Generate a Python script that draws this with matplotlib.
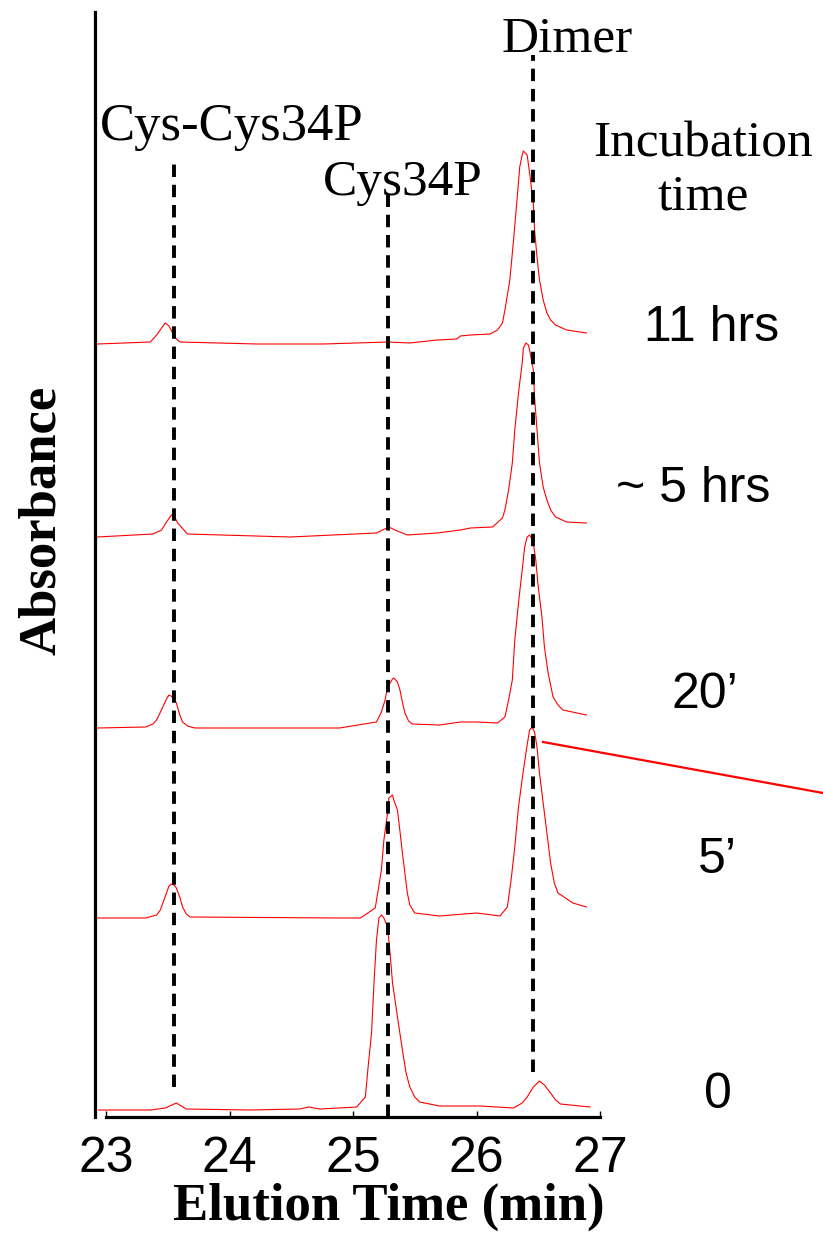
import matplotlib.pyplot as plt
from matplotlib.lines import Line2D

# chromatograms, elution time (min) and signal above each trace's own baseline (a.u.)
t_11h = [22.93, 23.36, 23.41, 23.45, 23.48, 23.51, 23.54, 23.57, 23.60, 24.22, 24.76, 25.28,
         25.46, 25.68, 25.84, 25.87, 25.95, 26.11, 26.17, 26.21, 26.23, 26.27, 26.30, 26.33,
         26.35, 26.37, 26.38, 26.41, 26.43, 26.46, 26.47, 26.49, 26.51, 26.54, 26.57, 26.60,
         26.64, 26.73, 26.89]
s_11h = [0, 2, 9, 16, 21, 18, 11, 5, 2, 0, 0, 2,
         1, 4, 5, 8, 9, 10, 14, 21, 34, 64, 104, 147,
         177, 189, 193, 189, 171, 141, 114, 87, 64, 44, 31, 24,
         19, 14, 11]

t_5h = [22.93, 23.38, 23.45, 23.49, 23.53, 23.56, 23.58, 23.66, 24.49, 25.19, 25.29, 25.34,
        25.44, 25.68, 25.87, 25.95, 26.13, 26.21, 26.23, 26.26, 26.29, 26.31, 26.34, 26.37,
        26.38, 26.40, 26.42, 26.43, 26.46, 26.47, 26.49, 26.51, 26.54, 26.57, 26.60, 26.64,
        26.73, 26.89]
s_5h = [0, 3, 7, 15, 22, 19, 14, 3, 0, 4, 10, 7,
        2, 4, 7, 9, 10, 19, 27, 47, 74, 107, 144, 174,
        189, 194, 192, 187, 167, 140, 107, 74, 50, 37, 27, 20,
        15, 14]

t_20m = [22.93, 23.32, 23.38, 23.41, 23.46, 23.49, 23.51, 23.54, 23.57, 23.595, 23.62, 23.66,
         23.72, 24.89, 25.19, 25.23, 25.26, 25.28, 25.32, 25.33, 25.36, 25.38, 25.40, 25.42,
         25.45, 25.48, 25.70, 25.87, 26.00, 26.17, 26.23, 26.26, 26.29, 26.31, 26.34, 26.37,
         26.39, 26.41, 26.43, 26.44, 26.46, 26.48, 26.50, 26.53, 26.55, 26.58, 26.62, 26.66,
         26.70, 26.89]
s_20m = [0, 1, 4, 8, 21, 29, 33, 31, 25, 14, 6, 2,
         0, 0, 6, 16, 28, 41, 49, 50, 46, 38, 26, 15,
         7, 4, 3, 6, 6, 5, 11, 28, 48, 88, 125, 158,
         181, 191, 193, 191, 185, 168, 141, 111, 81, 55, 31, 23,
         18, 13]

t_5m = [22.93, 23.32, 23.41, 23.44, 23.46, 23.49, 23.51, 23.53, 23.55, 23.57, 23.60, 23.62,
        23.65, 23.68, 24.89, 25.06, 25.18, 25.20, 25.23, 25.25, 25.28, 25.29, 25.32, 25.33,
        25.36, 25.38, 25.40, 25.42, 25.44, 25.46, 25.50, 25.70, 26.00, 26.19, 26.25, 26.28,
        26.31, 26.34, 26.38, 26.41, 26.43, 26.45, 26.47, 26.49, 26.51, 26.54, 26.57, 26.60,
        26.63, 26.66, 26.78, 26.89]
s_5m = [0, 0, 3, 8, 15, 25, 32, 34, 33, 30, 20, 11,
        4, 1, 0, 0, 10, 25, 48, 78, 105, 120, 123, 118,
        108, 87, 65, 45, 25, 13, 5, 2, 5, 2, 11, 38,
        71, 111, 148, 173, 188, 191, 186, 171, 145, 115, 85, 55,
        35, 25, 15, 11]

t_0 = [22.94, 23.36, 23.48, 23.57, 23.65, 24.17, 24.57, 24.64, 24.73, 25.03, 25.10, 25.12,
       25.15, 25.17, 25.19, 25.21, 25.23, 25.25, 25.28, 25.30, 25.32, 25.36, 25.40, 25.43,
       25.46, 25.50, 25.54, 25.70, 26.03, 26.30, 26.37, 26.41, 26.46, 26.51, 26.55, 26.60,
       26.64, 26.68, 26.92]
s_0 = [0, 0, 2, 7, 1, 0, 1, 3, 1, 3, 13, 40,
       77, 127, 170, 192, 195, 192, 183, 157, 127, 93, 60, 37,
       23, 13, 8, 4, 4, 2, 7, 13, 23, 29, 25, 17,
       10, 6, 3]

times = [t_0, t_5m, t_20m, t_5h, t_11h]
signals = [s_0, s_5m, s_20m, s_5h, s_11h]
offsets = [7, 199, 389, 580, 773]
incubation = ['0', '5\u2019', '20\u2019', '~ 5 hrs', '11 hrs']

peak_names = ['Cys-Cys34P', 'Cys34P', 'Dimer']
peak_times = [23.55, 25.28, 26.46]

W, H = 823, 1233
def fx(px):
    return px / W
def fy(py):
    return 1 - py / H

serif = 'Liberation Serif'
sans = 'Liberation Sans'

fig = plt.figure(figsize=(8.23, 12.33), dpi=100)
ax = fig.add_axes([fx(95), fy(1117), (600 - 95) / W, (1117 - 12) / H])
ax.set_xlim(23 - 11 / 123.5, 27)
ax.set_ylim(0, 1105)

for t, s, off in zip(times, signals, offsets):
    ax.plot(t, [off + v for v in s], color='red', lw=0.8)

# dashed markers at the peak positions (vertical extent is layout only)
dash_span = [(30, 957), (0, 922), (45, 1062)]
for x, (y0, y1) in zip(peak_times, dash_span):
    ax.plot([x, x], [y0, y1], color='black', lw=2.8, ls=(0, (3.2, 2.0)))

for side in ['top', 'right']:
    ax.spines[side].set_visible(False)
ax.spines['left'].set_linewidth(2.3)
ax.spines['bottom'].set_linewidth(2.3)
ax.spines['bottom'].set_bounds(23, 27)
ax.set_yticks([])
ax.set_xticks([23, 24, 25, 26, 27])
ax.tick_params(axis='x', direction='in', length=4, width=1, pad=14)
for lab in ax.get_xticklabels():
    lab.set_fontfamily(sans)
    lab.set_fontsize(36)

# peak labels
fig.text(fx(567), fy(52), peak_names[2], family=serif, fontsize=37, ha='center', va='baseline')
fig.text(fx(100), fy(140), peak_names[0], family=serif, fontsize=38, ha='left', va='baseline')
fig.text(fx(323), fy(195), peak_names[1], family=serif, fontsize=37, ha='left', va='baseline')
fig.text(fx(703), fy(210), 'Incubation\ntime', family=serif, fontsize=37, ha='center',
         va='baseline', multialignment='center')

# incubation time labels
lab_pos = [(718, 1108), (717, 873), (705, 708), (693, 502), (712, 341)]
for txt, (px, py) in zip(incubation, lab_pos):
    fig.text(fx(px), fy(py), txt, family=sans, fontsize=36, ha='center', va='baseline')

# axis titles
fig.text(fx(389), fy(1220), 'Elution Time (min)', family=serif, fontweight='bold',
         fontsize=38, ha='center', va='baseline')
fig.text(fx(55), fy(520), 'Absorbance', family=serif, fontweight='bold', fontsize=38,
         rotation=90, rotation_mode='anchor', ha='center', va='baseline')

# red pointer line off to the right
fig.add_artist(Line2D([fx(543), fx(823)], [fy(742), fy(793)], color='red', lw=1.6))

fig.savefig('out.png', dpi=100)
